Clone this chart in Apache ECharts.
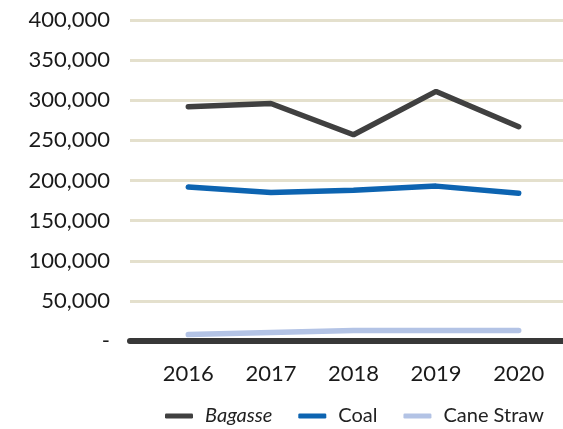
<!DOCTYPE html>
<html>
<head>
<meta charset="utf-8">
<script src="https://cdn.jsdelivr.net/npm/echarts@6/dist/echarts.min.js"></script>
<style>
  html, body { margin: 0; padding: 0; background: #fff; }
  #chart { width: 563px; height: 429px; }
</style>
</head>
<body>
<div id="chart"></div>
<script>
const years = ['2016', '2017', '2018', '2019', '2020'];
const bagasse = [292000, 296000, 257000, 311000, 267000];
const coal = [192000, 185000, 188000, 193000, 184000];
const caneStraw = [8000, 10500, 13000, 13000, 13000];

const FONT = 'Lato';
const chart = echarts.init(document.getElementById('chart'));

const lineSeries = (name, data, color) => ({
    name: name,
    type: 'line',
    xAxisIndex: 1,
    yAxisIndex: 1,
    data: data,
    symbol: 'none',
    color: color,
    lineStyle: { width: 5.5, color: color, cap: 'round' },
    z: 5
});

const option = {
    animation: false,
    textStyle: { fontFamily: FONT },
    grid: [
        { left: 130, right: 0, top: 20, bottom: 88 },
        { left: 147, right: 3, top: 20, bottom: 88 }
    ],
    legend: {
        left: 165,
        top: 406,
        padding: 0,
        itemWidth: 28,
        itemHeight: 5,
        itemGap: 26,
        icon: 'roundRect',
        textStyle: {
            fontFamily: FONT,
            fontSize: 20,
            color: '#222',
            padding: [0, 0, 0, 7],
            rich: { i: { fontStyle: 'italic', fontSize: 20, fontFamily: FONT, color: '#222' } }
        },
        formatter: name => name === 'Bagasse' ? '{i|Bagasse}' : name,
        data: ['Bagasse', 'Coal', 'Cane Straw']
    },
    xAxis: [
        {
            type: 'category',
            gridIndex: 0,
            data: years,
            axisLine: { show: true, lineStyle: { color: '#383838', width: 6 } },
            axisTick: { show: false },
            axisLabel: { show: false },
            splitLine: { show: false },
            z: 4
        },
        {
            type: 'category',
            gridIndex: 1,
            data: years,
            boundaryGap: true,
            axisLine: { show: false },
            axisTick: { show: false },
            axisLabel: { fontSize: 22, color: '#1a1a1a', margin: 22, fontFamily: FONT }
        }
    ],
    yAxis: [
        {
            type: 'value',
            gridIndex: 0,
            min: 0,
            max: 400000,
            interval: 50000,
            axisLine: { show: false },
            axisTick: { show: false },
            axisLabel: {
                fontSize: 22,
                color: '#1a1a1a',
                margin: 20,
                fontFamily: FONT,
                formatter: v => v === 0 ? '-' : v.toLocaleString('en-US')
            },
            splitLine: { show: true, lineStyle: { color: '#E4E0CD', width: 3 } }
        },
        {
            type: 'value',
            gridIndex: 1,
            min: 0,
            max: 400000,
            interval: 50000,
            axisLine: { show: false },
            axisTick: { show: false },
            axisLabel: { show: false },
            splitLine: { show: false }
        }
    ],
    series: [
        lineSeries('Bagasse', bagasse, '#404040'),
        lineSeries('Coal', coal, '#0D64B1'),
        lineSeries('Cane Straw', caneStraw, '#B3C3E5')
    ]
};

chart.setOption(option);
</script>
</body>
</html>
